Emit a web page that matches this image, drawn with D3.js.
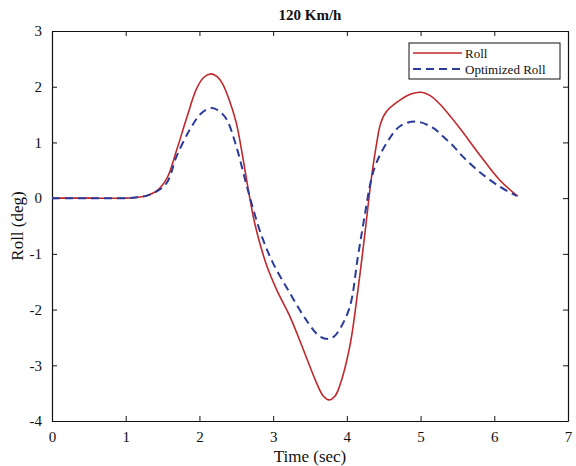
<!DOCTYPE html>
<html><head><meta charset="utf-8">
<script src="https://cdn.jsdelivr.net/npm/d3@7"></script>
<style>
body{margin:0;background:#fff;}
svg{display:block;}
text{font-family:"Liberation Serif","Times New Roman",serif;}
</style></head>
<body>
<svg id="c" width="576" height="466"></svg>
<script>
const title = "120 Km/h";
const xLabel = "Time (sec)";
const yLabel = "Roll (deg)";
const xTicks = [0,1,2,3,4,5,6,7];
const yTicks = [-4,-3,-2,-1,0,1,2,3];
const seriesNames = ["Roll","Optimized Roll"];

const rollT = [0,0.5,1.0,1.2,1.3,1.42,1.56,1.69,1.83,1.96,2.06,2.16,2.24,2.31,2.40,2.50,2.59,2.67,2.75,2.91,3.05,3.23,3.41,3.59,3.68,3.76,3.84,3.90,4.04,4.15,4.24,4.33,4.40,4.46,4.54,4.72,4.87,5.01,5.13,5.26,5.53,5.80,6.07,6.32];
const rollV = [0,0,0,0.02,0.05,0.13,0.36,0.86,1.45,1.96,2.17,2.23,2.18,2.06,1.78,1.35,0.72,0.1,-0.45,-1.2,-1.65,-2.13,-2.72,-3.32,-3.55,-3.62,-3.55,-3.38,-2.66,-1.65,-0.69,0.33,0.95,1.35,1.56,1.76,1.87,1.90,1.84,1.69,1.26,0.78,0.33,0.03];

const optT = [0,0.5,1.0,1.2,1.3,1.42,1.56,1.69,1.87,2.03,2.17,2.27,2.37,2.50,2.62,2.73,2.85,3.0,3.23,3.45,3.63,3.75,3.83,3.90,4.04,4.15,4.24,4.33,4.40,4.54,4.72,4.94,5.17,5.31,5.44,5.57,5.80,6.07,6.30];
const optV = [0,0,0,0.02,0.05,0.12,0.28,0.75,1.23,1.53,1.62,1.56,1.41,0.93,0.33,-0.2,-0.7,-1.17,-1.71,-2.19,-2.48,-2.53,-2.48,-2.36,-1.95,-1.05,-0.33,0.33,0.63,0.99,1.29,1.375,1.26,1.10,0.94,0.75,0.47,0.21,0.04];

const svg = d3.select("#c");
const L=52,R=568,T=31,B=421;
const x = d3.scaleLinear().domain([0,7]).range([L,R]);
const y = d3.scaleLinear().domain([-4,3]).range([B,T]);
const fmt = d => String(d);

const tickLen = 5;
svg.append("g").attr("transform",`translate(0,${B})`)
  .call(d3.axisBottom(x).tickValues(xTicks).tickFormat(fmt).tickSizeInner(-tickLen).tickSizeOuter(0).tickPadding(10))
  .call(g=>g.selectAll("text").attr("font-size",15).attr("fill","#111"));
svg.append("g").attr("transform",`translate(0,${T})`)
  .call(d3.axisTop(x).tickValues(xTicks).tickFormat("").tickSizeInner(-tickLen).tickSizeOuter(0));
svg.append("g").attr("transform",`translate(${L},0)`)
  .call(d3.axisLeft(y).tickValues(yTicks).tickFormat(fmt).tickSizeInner(-tickLen).tickSizeOuter(0).tickPadding(10))
  .call(g=>g.selectAll("text").attr("font-size",15).attr("fill","#111"));
svg.append("g").attr("transform",`translate(${R},0)`)
  .call(d3.axisRight(y).tickValues(yTicks).tickFormat("").tickSizeInner(-tickLen).tickSizeOuter(0));
svg.selectAll(".domain").attr("stroke","#111").attr("stroke-width",1.2);
svg.selectAll(".tick line").attr("stroke","#111");

const line = d3.line().x(d=>x(d[0])).y(d=>y(d[1])).curve(d3.curveCatmullRom.alpha(0.5));
const rollData = rollT.map((t,i)=>[t,rollV[i]]);
const optData = optT.map((t,i)=>[t,optV[i]]);

svg.append("path").datum(rollData).attr("d",line).attr("fill","none")
  .attr("stroke","#c0282d").attr("stroke-width",1.6);
svg.append("path").datum(optData).attr("d",line).attr("fill","none")
  .attr("stroke","#2a3a9a").attr("stroke-width",2).attr("stroke-dasharray","8,5");

svg.append("text").attr("x",(L+R)/2).attr("y",20).attr("text-anchor","middle")
  .attr("font-size",15).attr("font-weight","bold").attr("fill","#111").text(title);
svg.append("text").attr("x",(L+R)/2).attr("y",462).attr("text-anchor","middle")
  .attr("font-size",17).attr("fill","#111").text(xLabel);
svg.append("text").attr("transform",`translate(23,${(T+B)/2}) rotate(-90)`).attr("text-anchor","middle")
  .attr("font-size",17).attr("fill","#111").text(yLabel);

// legend
const lg = svg.append("g");
lg.append("rect").attr("x",409).attr("y",43).attr("width",151).attr("height",36)
  .attr("fill","#fff").attr("stroke","#111").attr("stroke-width",1);
const colors=["#c0282d","#2a3a9a"], dashes=[null,"8,5"], widths=[1.6,2];
seriesNames.forEach((n,i)=>{
  const yy = 53+i*16;
  lg.append("line").attr("x1",413).attr("x2",462).attr("y1",yy).attr("y2",yy)
    .attr("stroke",colors[i]).attr("stroke-width",widths[i]).attr("stroke-dasharray",dashes[i]);
  lg.append("text").attr("x",465).attr("y",yy+4.5).attr("font-size",13).attr("fill","#111").text(n);
});
</script>
</body></html>
